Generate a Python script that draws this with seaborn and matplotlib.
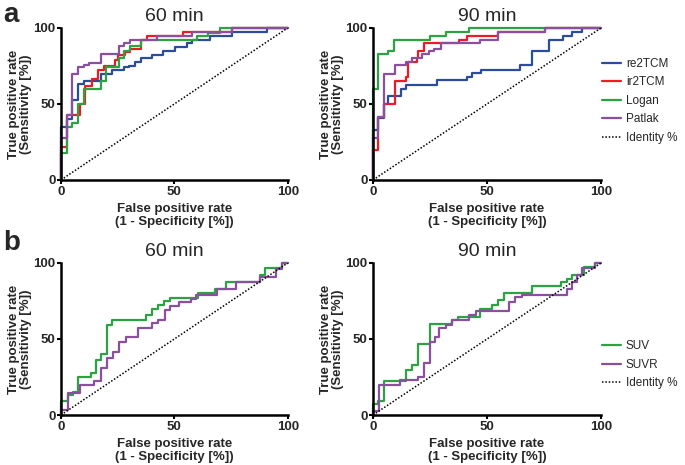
import pandas as pd
import numpy as np
import seaborn as sns
import matplotlib.pyplot as plt

# ROC step corners (fpr %, tpr %)
# panel a, 60 min
a60_re_fpr = [0, 0, 2.6, 4.8, 7.5, 10, 17.6, 22.5, 27.6, 29.8, 32.7, 35.4, 40, 44.8, 50.4, 55.5, 57.7, 65.8, 75.3, 90.7, 100]
a60_re_tpr = [0, 35, 40, 52.5, 63, 65, 70, 72, 74, 75, 77.7, 80, 82, 84.5, 87.5, 90, 92, 94.7, 97.4, 100, 100]
a60_ir_fpr = [0, 0, 2.6, 8.5, 10.7, 13.7, 16.3, 19, 24, 25, 28.3, 30.5, 35.4, 37.9, 54, 75.3, 100]
a60_ir_tpr = [0, 22, 42.7, 50, 62, 66.7, 72.6, 75, 79, 82, 84, 86, 92, 95, 97.4, 100, 100]
a60_lo_fpr = [0, 0, 2.6, 4.8, 7.5, 10, 17.6, 19.8, 25.4, 27.6, 30.5, 35.4, 59.9, 65, 70.2, 100]
a60_lo_tpr = [0, 17.5, 35, 37.6, 50, 60, 65, 74.4, 80, 85, 88, 92, 95, 96.7, 100, 100]
a60_pa_fpr = [0, 0, 2.6, 4.8, 7.5, 10, 12.2, 17.6, 25.4, 27.6, 30.5, 42.3, 57.7, 75.3, 100]
a60_pa_tpr = [0, 27.8, 42.7, 70, 74.4, 75.5, 77, 83, 88, 90, 92, 95, 97, 100, 100]

# panel a, 90 min
a90_re_fpr = [0, 0, 2.2, 4.8, 6.7, 12.1, 14.3, 28.1, 41, 43.4, 47.4, 64.6, 69.7, 77, 83.5, 87.2, 91.5, 100]
a90_re_tpr = [0, 32.8, 40.5, 50, 55, 59.5, 62.4, 65.6, 67.8, 70.5, 72.6, 75.5, 85, 92.3, 95, 97.4, 100, 100]
a90_ir_fpr = [0, 0, 2.2, 4.8, 9.5, 14.6, 15.5, 19.4, 19.7, 22.3, 37.6, 41.3, 54.8, 75.5, 100]
a90_ir_tpr = [0, 19.7, 41.6, 50, 65, 67.8, 77.7, 80, 85, 90, 92.3, 95, 97.4, 100, 100]
a90_lo_fpr = [0, 0, 2.2, 6.7, 9.2, 25, 32, 42.3, 100]
a90_lo_tpr = [0, 59.5, 83, 85, 92.3, 95, 97.4, 100, 100]
a90_pa_fpr = [0, 0, 2.2, 4.8, 9.5, 14.6, 17.2, 21.6, 24.5, 26.7, 29.6, 47, 54.8, 75.5, 100]
a90_pa_tpr = [0, 27.4, 41.6, 70, 75.5, 77.7, 80, 83, 85, 86.4, 90, 92.3, 97.4, 100, 100]

# panel b, 60 min
b60_suv_fpr = [0, 0, 2.9, 5.1, 7.7, 13.2, 15.4, 17.5, 20.2, 22.7, 37.6, 40.2, 42.7, 45.3, 48, 60.4, 68, 72.8, 87.7, 90.2, 97.5, 100]
b60_suv_tpr = [0, 9.4, 13, 15.3, 25, 27.4, 36, 40, 59.5, 62.4, 65.6, 70, 72.2, 75, 77, 80, 82.7, 87.5, 92, 97, 100, 100]
b60_suvr_fpr = [0, 0, 2.9, 8.5, 14.6, 17.5, 20.2, 23, 25.6, 28.5, 34, 40.2, 42.7, 45.8, 48, 51.9, 57.5, 59.6, 68.7, 77.2, 87.7, 95, 97.5, 100]
b60_suvr_tpr = [0, 3.3, 14.2, 19.7, 22.3, 30.6, 37.2, 41.6, 47.7, 51.4, 57.3, 60.2, 62.4, 69, 71.6, 74, 76.6, 79.2, 83, 87.5, 90.8, 96.3, 100, 100]

# panel b, 90 min
b90_suv_fpr = [0, 0, 2.2, 4.8, 14.3, 17.2, 19.7, 25, 34.7, 37.3, 47, 52.2, 54.8, 57.3, 69.7, 82.4, 85, 87.2, 92.3, 97.4, 100]
b90_suv_tpr = [0, 7.2, 9.4, 22.3, 29.5, 32.8, 47, 59.7, 62.4, 64.6, 70, 72.2, 75.5, 80, 85, 87.5, 89.7, 92.3, 97.4, 100, 100]
b90_suvr_fpr = [0, 0, 2.6, 11.7, 19.7, 22.3, 25, 27, 28.9, 31.8, 34.7, 42.3, 45, 59.8, 62.4, 65.3, 85, 87.2, 89.4, 91.5, 97.4, 100]
b90_suvr_tpr = [0, 2.6, 20, 23, 25, 34, 47.7, 51.4, 57.3, 59, 62.4, 65.6, 68.3, 74.4, 77.7, 79.2, 82.7, 87.5, 92, 97, 100, 100]

colors = {"re2TCM": "#2b4c9b", "ir2TCM": "#ed1c24", "Logan": "#2ca243",
          "Patlak": "#8a4f9e", "SUV": "#2ca243", "SUVR": "#8a4f9e"}


def make_df(curves):
    rows = []
    for name, (f, t) in curves.items():
        rows.append(pd.DataFrame({"fpr": f, "tpr": t, "method": name}))
    return pd.concat(rows, ignore_index=True)


panels = [
    ("60 min", make_df({"re2TCM": (a60_re_fpr, a60_re_tpr), "ir2TCM": (a60_ir_fpr, a60_ir_tpr),
                        "Logan": (a60_lo_fpr, a60_lo_tpr), "Patlak": (a60_pa_fpr, a60_pa_tpr)})),
    ("90 min", make_df({"re2TCM": (a90_re_fpr, a90_re_tpr), "ir2TCM": (a90_ir_fpr, a90_ir_tpr),
                        "Logan": (a90_lo_fpr, a90_lo_tpr), "Patlak": (a90_pa_fpr, a90_pa_tpr)})),
    ("60 min", make_df({"SUV": (b60_suv_fpr, b60_suv_tpr), "SUVR": (b60_suvr_fpr, b60_suvr_tpr)})),
    ("90 min", make_df({"SUV": (b90_suv_fpr, b90_suv_tpr), "SUVR": (b90_suvr_fpr, b90_suvr_tpr)})),
]

sns.set_style("ticks")
plt.rcParams['font.family'] = ['Liberation Sans', 'DejaVu Sans']

fig = plt.figure(figsize=(6.85, 4.65), dpi=100)
pos = [[0.089, 0.613, 0.331, 0.327], [0.5445, 0.613, 0.333, 0.327],
       [0.089, 0.1075, 0.331, 0.327], [0.5445, 0.1075, 0.333, 0.327]]
legend_y = {1: 0.52, 3: 0.33}

for i, (title, df) in enumerate(panels):
    ax = fig.add_axes(pos[i])
    order = list(df["method"].unique())
    sns.lineplot(data=df, x="fpr", y="tpr", hue="method", hue_order=order,
                 palette=colors, estimator=None, sort=False, drawstyle="steps-post",
                 linewidth=1.6, ax=ax, legend=False, clip_on=False)
    ax.plot([0, 100], [0, 100], color="black", linestyle=(0, (1, 1.2)), linewidth=1.1)
    ax.set_xlim(0, 100)
    ax.set_ylim(0, 100)
    ax.set_xticks([0, 50, 100])
    ax.set_yticks([0, 50, 100])
    for s in ["top", "right"]:
        ax.spines[s].set_visible(False)
    for s in ["left", "bottom"]:
        ax.spines[s].set_linewidth(1.8)
        ax.spines[s].set_color("black")
    ax.tick_params(width=1.5, length=3, color="black", labelsize=9.5, pad=1)
    for lab in ax.get_xticklabels() + ax.get_yticklabels():
        lab.set_fontweight("bold")
    ax.set_xlabel("False positive rate\n(1 - Specificity [%])", fontsize=9.5,
                  fontweight="bold", labelpad=4, linespacing=1.05)
    ax.set_ylabel("True positive rate\n(Sensitivity [%])", fontsize=9.5,
                  fontweight="bold", labelpad=1, linespacing=1.0)
    ax.set_title(title, fontsize=14, pad=5)

    if i % 2 == 1:
        handles = [plt.Line2D([], [], color=colors[m], linewidth=1.6) for m in order]
        handles.append(plt.Line2D([], [], color="black", linestyle=(0, (1, 1.2)), linewidth=1.1))
        ax.legend(handles, order + ["Identity %"], frameon=False, fontsize=8.5,
                  loc="center left", bbox_to_anchor=(1.0, legend_y[i]), handlelength=1.6,
                  labelspacing=0.55, handletextpad=0.4, borderaxespad=0.0, borderpad=0.1)

fig.text(0.005, 0.995, "a", fontsize=20, fontweight="bold", va="top", ha="left")
fig.text(0.005, 0.505, "b", fontsize=20, fontweight="bold", va="top", ha="left")

fig.savefig("out.png", dpi=100)
